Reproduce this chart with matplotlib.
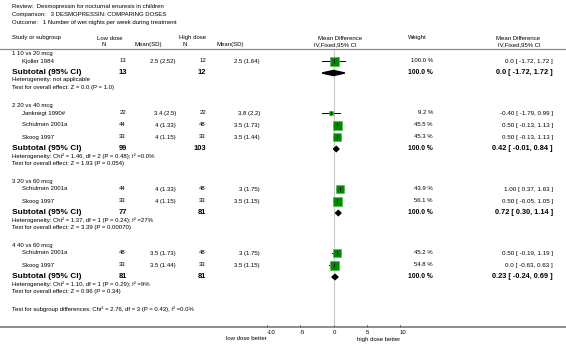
import numpy as np
import matplotlib
matplotlib.use("Agg")
import matplotlib.pyplot as plt
from matplotlib.patches import Polygon

plt.rcParams['font.family'] = ['Liberation Sans', 'DejaVu Sans']

# ---- data ----
title_lines = ["Review:  Desmopressin for nocturnal enuresis in children",
               "Comparison:   3 DESMOPRESSIN: COMPARING DOSES",
               "Outcome:   1 Number of wet nights per week during treatment"]

group_names = ["1 10 vs 20 mcg", "2 20 vs 40 mcg", "3 20 vs 60 mcg", "4 40 vs 60 mcg"]

study_names = [["Kjoller 1984"],
               ["Janknegt 1990#", "Schulman 2001a", "Skoog 1997"],
               ["Schulman 2001a", "Skoog 1997"],
               ["Schulman 2001a", "Skoog 1997"]]
low_n = [[13], [22, 44, 33], [44, 33], [48, 33]]
low_msd = [["2.5 (2.52)"], ["3.4 (2.5)", "4 (1.33)", "4 (1.15)"],
           ["4 (1.33)", "4 (1.15)"], ["3.5 (1.73)", "3.5 (1.44)"]]
high_n = [[12], [22, 48, 33], [48, 33], [48, 33]]
high_msd = [["2.5 (1.64)"], ["3.8 (2.2)", "3.5 (1.73)", "3.5 (1.44)"],
            ["3 (1.75)", "3.5 (1.15)"], ["3 (1.75)", "3.5 (1.15)"]]
weights = [[100.0], [9.2, 45.5, 45.3], [43.9, 56.1], [45.2, 54.8]]
md = [[0.0], [-0.40, 0.50, 0.50], [1.00, 0.50], [0.50, 0.0]]
md_lo = [[-1.72], [-1.79, -0.13, -0.13], [0.37, -0.05], [-0.19, -0.63]]
md_hi = [[1.72], [0.99, 1.13, 1.13], [1.63, 1.05], [1.19, 0.63]]
md_txt = [["0.0 [ -1.72, 1.72 ]"],
          ["-0.40 [ -1.79, 0.99 ]", "0.50 [ -0.13, 1.13 ]", "0.50 [ -0.13, 1.13 ]"],
          ["1.00 [ 0.37, 1.63 ]", "0.50 [ -0.05, 1.05 ]"],
          ["0.50 [ -0.19, 1.19 ]", "0.0 [ -0.63, 0.63 ]"]]

sub_low_n = [13, 99, 77, 81]
sub_high_n = [12, 103, 81, 81]
sub_md = [0.0, 0.42, 0.72, 0.23]
sub_lo = [-1.72, -0.01, 0.30, -0.24]
sub_hi = [1.72, 0.84, 1.14, 0.69]
sub_txt = ["0.0 [ -1.72, 1.72 ]", "0.42 [ -0.01, 0.84 ]",
           "0.72 [ 0.30, 1.14 ]", "0.23 [ -0.24, 0.69 ]"]
het_txt = ["Heterogeneity: not applicable",
           "Heterogeneity: Chi² = 1.46, df = 2 (P = 0.48); I² =0.0%",
           "Heterogeneity: Chi² = 1.37, df = 1 (P = 0.24); I² =27%",
           "Heterogeneity: Chi² = 1.10, df = 1 (P = 0.29); I² =9%"]
z_txt = ["Test for overall effect: Z = 0.0 (P = 1.0)",
         "Test for overall effect: Z = 1.93 (P = 0.054)",
         "Test for overall effect: Z = 3.39 (P = 0.00070)",
         "Test for overall effect: Z = 0.96 (P = 0.34)"]
subgroup_diff = "Test for subgroup differences: Chi² = 2.76, df = 3 (P = 0.43), I² =0.0%"

ticks = [-10, -5, 0, 5, 10]

# ---- figure: one pixel-space axes for text, one MD-scale axes for marks ----
W, H = 566, 349
fig = plt.figure(figsize=(W / 100, H / 100), dpi=100)
tx = fig.add_axes([0, 0, 1, 1])
tx.set_xlim(0, W)
tx.set_ylim(H, 0)
tx.axis('off')

zero_px, px_per_unit = 333.5, 6.65
ax = fig.add_axes([0, 0, 1, 1])
ax.set_xlim(-zero_px / px_per_unit, (W - zero_px) / px_per_unit)
ax.set_ylim(H, 0)
ax.axis('off')

fs = 4.3
fsb = 4.9
green = '#008a00'

for i, t in enumerate(title_lines):
    tx.text(12, 6.5 + i * 7.8, t, fontsize=fs, va='center')

# header
hy1, hy2 = 38, 44.5
tx.text(12, hy1, "Study or subgroup", fontsize=fs, va='center')
tx.text(97, hy1, "Low dose", fontsize=fs, va='center')
tx.text(104, hy2, "N", fontsize=fs, va='center', ha='center')
tx.text(148, hy2, "Mean(SD)", fontsize=fs, va='center', ha='center')
tx.text(179, hy1, "High dose", fontsize=fs, va='center')
tx.text(185, hy2, "N", fontsize=fs, va='center', ha='center')
tx.text(230, hy2, "Mean(SD)", fontsize=fs, va='center', ha='center')
tx.text(340, hy1, "Mean Difference", fontsize=fs, va='center', ha='center')
tx.text(335, hy2, "IV,Fixed,95% CI", fontsize=fs, va='center', ha='center')
tx.text(417, hy1, "Weight", fontsize=fs, va='center', ha='center')
tx.text(540, hy1, "Mean Difference", fontsize=fs, va='center', ha='right')
tx.text(541, hy2, "IV,Fixed,95% CI", fontsize=fs, va='center', ha='right')
tx.plot([0, W], [49, 49], color='#8c8c8c', lw=0.9)

axis_y = 327
# zero line
ax.plot([0, 0], [50, axis_y], color='#c8c8c8', lw=0.8, zorder=1)

y = 54
for g in range(len(group_names)):
    tx.text(12, y, group_names[g], fontsize=fs, va='center')
    y += 7
    for k in range(len(study_names[g])):
        tx.text(22, y, study_names[g][k], fontsize=fs, va='center')
        tx.text(126, y, str(low_n[g][k]), fontsize=fs, va='center', ha='right')
        tx.text(176, y, low_msd[g][k], fontsize=fs, va='center', ha='right')
        tx.text(206, y, str(high_n[g][k]), fontsize=fs, va='center', ha='right')
        tx.text(260, y, high_msd[g][k], fontsize=fs, va='center', ha='right')
        tx.text(433, y, "%.1f %%" % weights[g][k], fontsize=fs, va='center', ha='right')
        tx.text(553, y, md_txt[g][k], fontsize=fs + 0.2, va='center', ha='right')
        ax.plot([md_lo[g][k], md_hi[g][k]], [y, y], color='black', lw=0.7, zorder=3)
        side = min(9.0, 2.2 + 0.15 * weights[g][k])
        ax.plot(md[g][k], y, marker='s', markersize=side * 0.72, color=green,
                mec='#58b858', mew=0.5, zorder=4)
        ax.plot(md[g][k], y, marker='|', markersize=3, color='black', mew=0.6, zorder=5)
        y += 12
    tx.text(12, y, "Subtotal (95% CI)", fontsize=6.0, fontweight='bold', va='center')
    tx.text(127, y, str(sub_low_n[g]), fontsize=5.4, fontweight='bold', va='center', ha='right')
    tx.text(206, y, str(sub_high_n[g]), fontsize=5.4, fontweight='bold', va='center', ha='right')
    tx.text(433, y, "100.0 %", fontsize=fsb, fontweight='bold', va='center', ha='right')
    tx.text(553, y, sub_txt[g], fontsize=5.3, fontweight='bold', va='center', ha='right')
    ax.add_patch(Polygon([(sub_lo[g], y), (sub_md[g], y - 2.6), (sub_hi[g], y), (sub_md[g], y + 2.6)],
                         closed=True, color='black', zorder=4))
    tx.text(12, y + 7, het_txt[g], fontsize=fs, va='center')
    tx.text(12, y + 14, z_txt[g], fontsize=fs, va='center')
    y += 14 + 19

tx.text(12, y - 1, subgroup_diff, fontsize=fs, va='center')

# bottom axis
tx.plot([0, W], [axis_y, axis_y], color='#8c8c8c', lw=1.4)
for t in ticks:
    ax.plot([t, t], [axis_y - 2.2, axis_y], color='#606060', lw=0.6)
    ax.text(t - 0.08, axis_y + 5, str(t), fontsize=fs, va='center', ha='left')
ax.text(-10, axis_y + 12, "low dose better", fontsize=fs, va='center', ha='right')
ax.text(3.5, axis_y + 12, "high dose better", fontsize=fs, va='center', ha='left')

fig.savefig("out.png", dpi=100, facecolor='white')
